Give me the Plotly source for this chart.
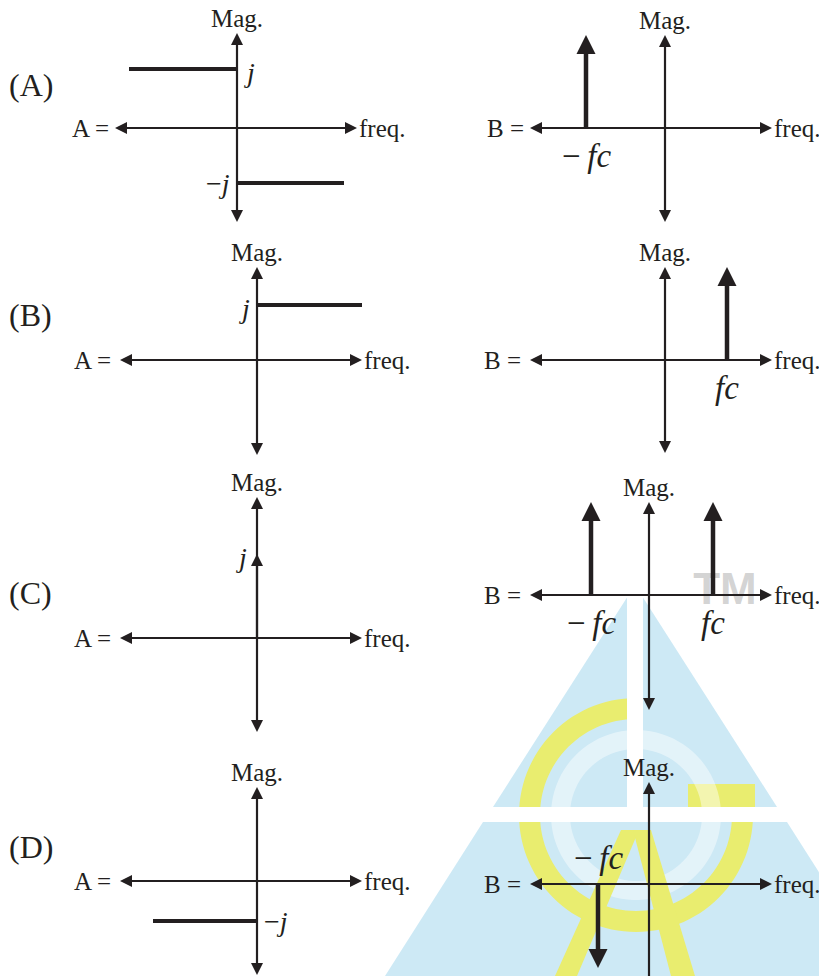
import math
import plotly.graph_objects as go

W, H = 819, 976
PX = 100.0          # one data unit = 100 px on the page, in every panel
INK = "#231f20"
SERIF = "Liberation Serif"

ROW_TAGS = ["(A)", "(B)", "(C)", "(D)"]

# A(f): flat spectra, (f_from, f_to, level) - level > 0 reads "j", < 0 reads "-j"
A_STEPS_A = [(-1.08, 0.0, 0.59), (0.0, 1.07, -0.55)]
A_STEPS_B = [(0.0, 1.05, 0.55)]
A_STEPS_C = []
A_STEPS_D = [(-1.04, 0.0, -0.40)]
# A(f): impulse at f = 0, (f, height)
A_SPIKES_C = [(0.0, 0.84)]

# B(f): impulses at +/- fc, (f, height)
B_SPIKES_A = [(-0.79, 0.93)]
B_SPIKES_B = [(0.62, 0.93)]
B_SPIKES_C = [(-0.58, 0.93), (0.64, 0.93)]
B_SPIKES_D = [(-0.51, -0.84)]

A_STEPS = [A_STEPS_A, A_STEPS_B, A_STEPS_C, A_STEPS_D]
A_SPIKES = [[], [], A_SPIKES_C, []]
B_SPIKES = [B_SPIKES_A, B_SPIKES_B, B_SPIKES_C, B_SPIKES_D]

# page layout: panel origins (px) and axis arm lengths (left, right, down, up)
ORIGINS = [(237, 128), (257, 360), (257, 638), (257, 881),
           (665, 128), (665, 360), (649, 595), (649, 884)]
ARMS = [(1.22, 1.20, 0.94, 0.95), (1.37, 1.05, 0.95, 0.93),
        (1.37, 1.05, 0.94, 1.41), (1.37, 1.05, 0.94, 0.94),
        (1.35, 1.07, 0.94, 0.93), (1.35, 1.07, 0.93, 0.93),
        (1.19, 1.23, 1.15, 0.93), (1.19, 1.23, 1.40, 1.02)]
TAG_POS = [(31, 85), (31, 315), (31, 593), (31, 847)]

TXT = 25
SYM = 30


def page(xp, yp):
    return xp / W, 1 - yp / H


def poly_path(points):
    out = []
    for i, (xp, yp) in enumerate(points):
        x, y = page(xp, yp)
        out.append(("M" if i == 0 else "L") + f"{x:.5f},{y:.5f}")
    return "".join(out) + "Z"


def arc(cx, cy, r, t0, t1, n=90):
    pts = []
    for i in range(n + 1):
        t = math.radians(t0 + (t1 - t0) * i / n)
        pts.append((cx + r * math.cos(t), cy - r * math.sin(t)))
    return pts


fig = go.Figure()

# ---- watermark in the background ----
BLUE = "#cde9f5"
YELLOW = "#e9ed6f"
wm = [
    (poly_path([(635, 585), (493, 807), (777, 807)]), BLUE),
    (poly_path([(483, 822), (787, 822), (885, 976), (385, 976)]), BLUE),
    (poly_path(arc(636, 815, 117, 90, 360) + arc(636, 815, 96, 360, 90)), YELLOW),
    (poly_path([(688, 784), (755, 784), (755, 807), (688, 807)]), YELLOW),
    (poly_path(arc(636, 815, 85, 0, 360)) + poly_path(arc(636, 815, 66, 0, 360)),
     "rgba(255,255,255,0.45)"),
    (poly_path([(621, 830), (639, 830), (577, 976), (555, 976)]), YELLOW),
    (poly_path([(633, 830), (651, 830), (695, 976), (671, 976)]), YELLOW),
    (poly_path([(627, 570), (643, 570), (643, 807), (627, 807)]), "white"),
    (poly_path([(470, 807), (800, 807), (800, 822), (470, 822)]), "white"),
]
for path, col in wm:
    fig.add_shape(type="path", path=path, xref="paper", yref="paper",
                  fillcolor=col, line=dict(width=0), layer="below")


def arrow_marks(xs, ys, syms, size, xa, ya):
    return go.Scatter(x=xs, y=ys, mode="markers", xaxis=xa, yaxis=ya,
                      marker=dict(symbol=syms, size=size, color=INK, line=dict(width=0)),
                      hoverinfo="skip", showlegend=False)


for k in range(8):
    sfx = "" if k == 0 else str(k + 1)
    xa, ya = "x" + sfx, "y" + sfx
    ox, oy = ORIGINS[k]
    fig.update_layout({
        "xaxis" + sfx: dict(domain=[0, 1], range=[-ox / PX, (W - ox) / PX],
                            anchor=ya, visible=False, fixedrange=True),
        "yaxis" + sfx: dict(domain=[0, 1], range=[-(H - oy) / PX, oy / PX],
                            anchor=xa, visible=False, fixedrange=True),
    })
    row = k % 4
    left = k < 4
    l, r, d, u = ARMS[k]

    if k == 6:
        fig.add_trace(go.Scatter(x=[0.76], y=[0.02], mode="text", text=["TM"],
                                 textfont=dict(family="Liberation Sans", size=44, weight="bold",
                                               color="rgba(175,175,175,0.55)"),
                                 xaxis=xa, yaxis=ya, hoverinfo="skip", showlegend=False))

    # axes with arrowheads on both ends
    inset = 0.06
    fig.add_trace(go.Scatter(x=[-l + inset, r - inset, None, 0, 0],
                             y=[0, 0, None, -d + inset, u - inset],
                             mode="lines", line=dict(color=INK, width=2.2),
                             xaxis=xa, yaxis=ya, hoverinfo="skip", showlegend=False))
    fig.add_trace(arrow_marks([-l, r, 0, 0], [0, 0, -d, u],
                              ["arrow-left", "arrow-right", "arrow-down", "arrow-up"], 12, xa, ya))

    fig.add_annotation(x=0, y=u, xref=xa, yref=ya, text="Mag.", showarrow=False,
                       yanchor="bottom", yshift=-1, font=dict(family=SERIF, size=TXT, color=INK))
    fig.add_annotation(x=r, y=0, xref=xa, yref=ya, text="freq.", showarrow=False,
                       xanchor="left", xshift=0, font=dict(family=SERIF, size=TXT, color=INK))
    fig.add_annotation(x=-l, y=0, xref=xa, yref=ya, text="A =" if left else "B =",
                       showarrow=False, xanchor="right", xshift=-4 if row == 0 else -7,
                       font=dict(family=SERIF, size=TXT, color=INK))

    if left:
        tx, ty = TAG_POS[row]
        px_, py_ = page(tx, ty)
        fig.add_annotation(x=px_, y=py_, xref="paper", yref="paper", text=ROW_TAGS[row],
                           showarrow=False, xanchor="center", yanchor="middle",
                           font=dict(family=SERIF, size=32, color=INK))
        xs, ys = [], []
        for f0, f1, lev in A_STEPS[row]:
            xs += [f0, f1, None]
            ys += [lev, lev, None]
            side = 1 if f0 < 0 else -1
            fig.add_annotation(x=0, y=lev, xref=xa, yref=ya,
                               text="<i>j</i>" if lev > 0 else "\u2212<i>j</i>",
                               showarrow=False, xanchor="left" if side > 0 else "right",
                               xshift=5 * side, yshift=-3 if lev > 0 else 0,
                               font=dict(family=SERIF, size=SYM - 2, color=INK))
        if xs:
            fig.add_trace(go.Scatter(x=xs, y=ys, mode="lines", line=dict(color=INK, width=4),
                                     xaxis=xa, yaxis=ya, hoverinfo="skip", showlegend=False))
        for f, h in A_SPIKES[row]:
            fig.add_trace(go.Scatter(x=[f, f], y=[0, h - 0.06], mode="lines",
                                     line=dict(color=INK, width=2.2),
                                     xaxis=xa, yaxis=ya, hoverinfo="skip", showlegend=False))
            fig.add_trace(arrow_marks([f], [h], ["arrow-up" if h > 0 else "arrow-down"], 12, xa, ya))
            fig.add_annotation(x=f, y=h, xref=xa, yref=ya, text="<i>j</i>", showarrow=False,
                               xanchor="right", xshift=-8, yshift=-3,
                               font=dict(family=SERIF, size=SYM - 2, color=INK))
    else:
        xs, ys, hx, hy, hs = [], [], [], [], []
        for f, h in B_SPIKES[row]:
            sgn = 1 if h > 0 else -1
            xs += [f, f, None]
            ys += [0, h - sgn * 0.1, None]
            hx.append(f)
            hy.append(h)
            hs.append("arrow-up" if h > 0 else "arrow-down")
            fig.add_annotation(x=f, y=0, xref=xa, yref=ya,
                               text="\u2212\u2009<i>fc</i>" if f < 0 else "<i>fc</i>",
                               showarrow=False, yanchor="top" if h > 0 else "bottom",
                               yshift=-8 if h > 0 else 6,
                               font=dict(family=SERIF, size=SYM + 3, color=INK))
        fig.add_trace(go.Scatter(x=xs, y=ys, mode="lines", line=dict(color=INK, width=4.5),
                                 xaxis=xa, yaxis=ya, hoverinfo="skip", showlegend=False))
        fig.add_trace(arrow_marks(hx, hy, hs, 19, xa, ya))

fig.update_layout(
    width=W, height=H, autosize=False,
    margin=dict(l=0, r=0, t=0, b=0),
    paper_bgcolor="white", plot_bgcolor="rgba(0,0,0,0)",
    showlegend=False,
)

# page body margin would push the figure 8 px off the window corner
fig.write_html("out.html", config={"displayModeBar": False},
               post_script="document.body.style.margin='0';document.body.style.overflow='hidden';")
